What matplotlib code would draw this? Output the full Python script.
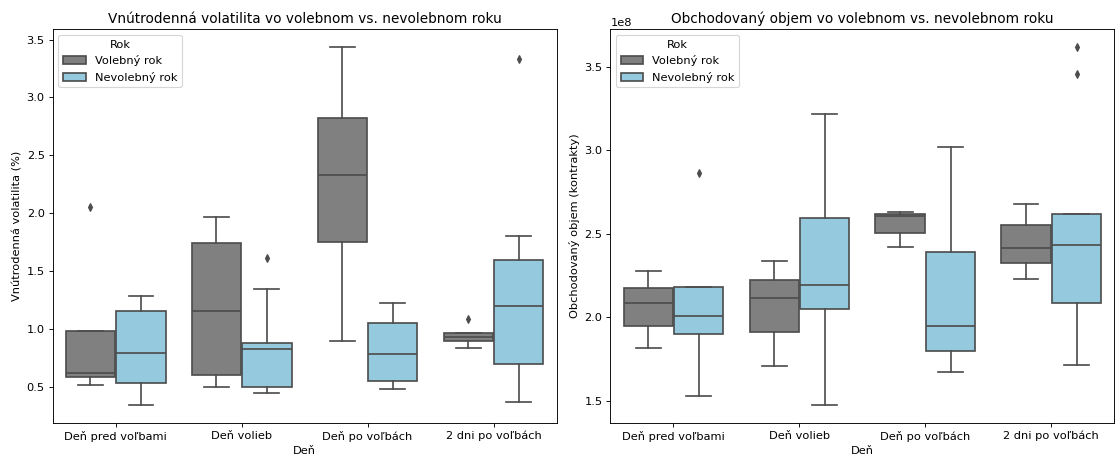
import colorsys
import matplotlib
matplotlib.use("Agg")
import matplotlib.pyplot as plt
from matplotlib.patches import Patch

# Kategórie
days = ['Deň pred voľbami', 'Deň volieb', 'Deň po voľbách', '2 dni po voľbách']
hues = ['Volebný rok', 'Nevolebný rok']

# Vnútrodenná volatilita (%): [whislo, q1, median, q3, whishi] pre každý deň
vol_election = [[0.515, 0.589, 0.618, 0.985, 0.985],
                [0.503, 0.606, 1.153, 1.747, 1.972],
                [0.897, 1.753, 2.334, 2.819, 3.434],
                [0.839, 0.897, 0.934, 0.971, 0.971]]
vol_election_fliers = [[2.058], [], [], [1.086]]
vol_normal = [[0.347, 0.534, 0.793, 1.161, 1.290],
              [0.451, 0.500, 0.825, 0.879, 1.345],
              [0.483, 0.549, 0.782, 1.052, 1.230],
              [0.373, 0.696, 1.198, 1.595, 1.802]]
vol_normal_fliers = [[], [1.618], [], [3.328]]

# Obchodovaný objem (kontrakty)
volu_election = [[1.818e8, 1.950e8, 2.088e8, 2.177e8, 2.275e8],
                 [1.706e8, 1.914e8, 2.113e8, 2.223e8, 2.337e8],
                 [2.419e8, 2.507e8, 2.609e8, 2.617e8, 2.633e8],
                 [2.227e8, 2.323e8, 2.417e8, 2.551e8, 2.681e8]]
volu_election_fliers = [[], [], [], []]
volu_normal = [[1.528e8, 1.902e8, 2.010e8, 2.181e8, 2.181e8],
               [1.476e8, 2.051e8, 2.193e8, 2.597e8, 3.215e8],
               [1.671e8, 1.797e8, 1.951e8, 2.393e8, 3.019e8],
               [1.716e8, 2.088e8, 2.435e8, 2.621e8, 2.621e8]]
volu_normal_fliers = [[2.864e8], [], [], [3.618e8, 3.458e8]]


def desaturate(color, prop):
    r, g, b = matplotlib.colors.to_rgb(color)
    h, l, s = colorsys.rgb_to_hls(r, g, b)
    return colorsys.hls_to_rgb(h, l, s * prop)


box_colors = [desaturate('gray', 0.75), desaturate('skyblue', 0.75)]
lum = min(colorsys.rgb_to_hls(*c)[1] for c in box_colors) * 0.6
line_gray = (lum, lum, lum)
lw = 1.5


def draw_boxes(ax, series, fliers):
    n = len(series)
    width = 0.8 / n
    for i, (summ, fl) in enumerate(zip(series, fliers)):
        offset = -0.4 + width / 2 + i * width
        stats = []
        for s, f in zip(summ, fl):
            stats.append(dict(whislo=s[0], q1=s[1], med=s[2], q3=s[3],
                              whishi=s[4], fliers=f))
        pos = [k + offset for k in range(len(stats))]
        ax.bxp(stats, positions=pos, widths=width * 0.98, patch_artist=True,
               showfliers=True, manage_ticks=False,
               boxprops=dict(facecolor=box_colors[i], edgecolor=line_gray, linewidth=lw),
               medianprops=dict(color=line_gray, linewidth=lw),
               whiskerprops=dict(color=line_gray, linewidth=lw),
               capprops=dict(color=line_gray, linewidth=lw),
               flierprops=dict(marker='d', markerfacecolor=line_gray,
                               markeredgecolor=line_gray, markersize=5,
                               linestyle='none'))
    ax.set_xticks(range(len(days)))
    ax.set_xticklabels(days)
    ax.set_xlim(-0.5, len(days) - 0.5)
    ax.set_xlabel('Deň')
    handles = [Patch(facecolor=box_colors[i], edgecolor=line_gray, linewidth=lw,
                     label=hues[i]) for i in range(len(hues))]
    ax.legend(handles=handles, title='Rok', loc='upper left')


dpi = 81.5
fig, axes = plt.subplots(1, 2, figsize=(1116 / dpi, 456 / dpi), dpi=dpi)
fig.subplots_adjust(left=0.0472, right=0.9985, bottom=0.073, top=0.9357, wspace=0.107)

ax = axes[0]
draw_boxes(ax, [vol_election, vol_normal], [vol_election_fliers, vol_normal_fliers])
ax.set_title('Vnútrodenná volatilita vo volebnom vs. nevolebnom roku')
ax.set_ylabel('Vnútrodenná volatilita (%)')

ax = axes[1]
draw_boxes(ax, [volu_election, volu_normal], [volu_election_fliers, volu_normal_fliers])
ax.set_title('Obchodovaný objem vo volebnom vs. nevolebnom roku')
ax.set_ylabel('Obchodovaný objem (kontrakty)')

fig.savefig('out.png', dpi=dpi)
plt.close(fig)
